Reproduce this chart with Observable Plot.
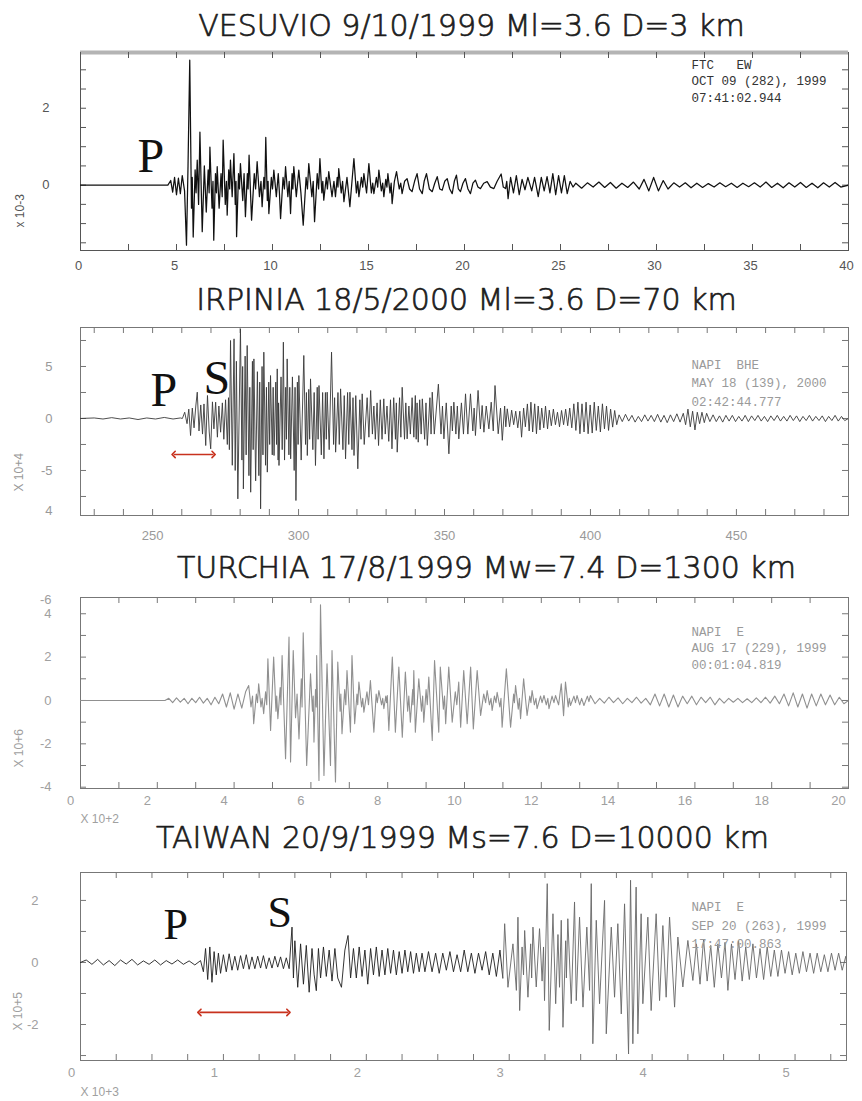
<!DOCTYPE html>
<html><head><meta charset="utf-8">
<script src="https://cdn.jsdelivr.net/npm/d3@7"></script>
<script src="https://cdn.jsdelivr.net/npm/@observablehq/plot@0.6"></script>
<style>
body{margin:0;background:#fff;}
#wrap{position:relative;width:862px;height:1101px;overflow:hidden;background:#fff;}
#wrap > svg{position:absolute;left:0;}
svg text, svg tspan{white-space:pre;}
</style></head><body><div id="wrap"></div>
<script>
// ---------- titles ----------
const titles = [
  "VESUVIO 9/10/1999 Ml=3.6 D=3 km",
  "IRPINIA 18/5/2000 Ml=3.6 D=70 km",
  "TURCHIA 17/8/1999 Mw=7.4 D=1300 km",
  "TAIWAN 20/9/1999 Ms=7.6 D=10000 km"
];
const stationNotes = [
  "FTC   EW\nOCT 09 (282), 1999\n07:41:02.944",
  "NAPI  BHE\nMAY 18 (139), 2000\n02:42:44.777",
  "NAPI  E\nAUG 17 (229), 1999\n00:01:04.819",
  "NAPI  E\nSEP 20 (263), 1999\n17:47:00.863"
];
const scaleNotes = ["x 10-3", "X 10+4", "X 10+6", "X 10+5"];
const timeNotes = ["", "", "X 10+2", "X 10+3"];

// ---------- axes ----------
const vesXTicks = [0,2.5,5,7.5,10,12.5,15,17.5,20,22.5,25,27.5,30,32.5,35,37.5,40];
const vesXLabels = [0,5,10,15,20,25,30,35,40];
const vesYTicks = [-1.5,-1,-0.5,0,0.5,1,1.5,2,2.5,3];
const vesYLabelVals = [2,0];
const vesYLabelText = ["2","0"];

const irpXTicks = [230,240,250,260,270,280,290,300,310,320,330,340,350,360,370,380,390,400,410,420,430,440,450,460,470,480];
const irpXLabels = [250,300,350,400,450];
const irpYTicks = [-7.5,-5,-2.5,0,2.5,5,7.5];
const irpYLabelVals = [5,0,-5,-8.9];
const irpYLabelText = ["5","0","-5","4"];

const turXTicks = [0,1,2,3,4,5,6,7,8,9,10,11,12,13,14,15,16,17,18,19,20];
const turXLabels = [0,2,4,6,8,10,12,14,16,18,20];
const turYTicks = [-4,-3,-2,-1,0,1,2,3,4];
const turYLabelVals = [4.62,4,2,0,-2,-4];
const turYLabelText = ["-6","4","2","0","-2","-4"];

const taiXTicks = [0,0.25,0.5,0.75,1,1.25,1.5,1.75,2,2.25,2.5,2.75,3,3.25,3.5,3.75,4,4.25,4.5,4.75,5,5.25];
const taiXLabels = [0,1,2,3,4,5];
const taiYTicks = [-3,-2,-1,0,1,2];
const taiYLabelVals = [2,0,-2];
const taiYLabelText = ["2","0","-2"];

// ---------- P / S arrival arrows (time span, amplitude level) ----------
const irpArrow = [{x1: 257.2, x2: 270.9, y: -3.46}];
const taiArrow = [{x1: 0.832, x2: 1.455, y: -1.61}];
// Taiwan: time where surface waves (grey part of trace) begin
const taiSurfaceStart = 2.955;

// ---------- traces [time, amplitude] ----------
const vesuvioTrace = [
[0,0],[4.55,0],[4.7,0.12],[4.8,-0.18],[4.9,0.2],[5.0,-0.25],[5.1,0.18],[5.2,-0.22],[5.3,0.25],[5.42,-0.15],
[5.52,-1.56],[5.6,0.5],[5.69,3.25],[5.78,-0.6],[5.82,0.2],[5.87,-1.35],[5.97,0.4],[6.02,-0.2],[6.08,0.65],[6.15,-0.5],
[6.22,1.38],[6.34,-1.21],[6.45,0.5],[6.55,-0.7],[6.65,0.4],[6.7,-0.2],[6.74,0.99],[6.85,-0.6],[6.9,0.1],[6.94,-1.43],
[7.03,0.3],[7.08,-0.2],[7.12,0.48],[7.22,-0.6],[7.32,0.3],[7.38,-0.3],[7.43,1.17],[7.54,-0.5],[7.6,0.1],[7.64,-0.78],
[7.72,0.4],[7.77,-0.1],[7.81,0.65],[7.9,-0.3],[7.99,0.82],[8.06,-0.5],[8.1,0.1],[8.13,-1.34],[8.23,0.3],[8.28,-0.1],
[8.33,0.56],[8.45,-0.4],[8.52,0.3],[8.59,-0.82],[8.69,0.3],[8.73,-0.1],[8.78,0.78],[8.91,-0.91],[9.05,0.3],[9.12,-0.1],
[9.2,0.61],[9.32,-0.3],[9.4,0.1],[9.46,-0.56],[9.55,0.2],[9.6,-0.1],[9.65,1.24],[9.73,-0.4],[9.77,0.1],[9.81,-0.74],
[9.94,0.2],[10.0,-0.1],[10.07,0.39],[10.2,-0.3],[10.3,0.3],[10.36,-0.2],[10.42,-0.87],[10.55,0.2],[10.62,-0.1],[10.68,0.48],
[10.8,-0.3],[10.87,0.1],[10.94,-0.74],[11.02,0.3],[11.06,-0.1],[11.11,0.48],[11.24,-0.3],[11.37,0.39],[11.48,-0.2],[11.6,-1.04],
[11.75,0.2],[11.82,-0.1],[11.89,0.56],[12.05,-0.3],[12.12,0.1],[12.19,-0.95],[12.33,0.3],[12.4,-0.1],[12.47,0.69],[12.57,-0.2],
[12.62,0.1],[12.67,-0.39],[12.8,0.2],[12.86,-0.1],[12.93,0.35],[13.1,-0.3],[13.2,0.1],[13.28,-0.3],[13.37,0.2],[13.41,-0.05],
[13.45,0.43],[13.58,-0.2],[13.65,0.1],[13.72,-0.43],[13.88,0.2],[14.03,-0.56],[14.14,0.1],[14.24,0.69],[14.37,-0.2],[14.44,0.1],
[14.5,-0.3],[14.63,0.2],[14.7,-0.05],[14.76,0.3],[14.9,-0.2],[15.02,0.56],[15.15,-0.2],[15.22,0.05],[15.28,-0.22],[15.41,0.2],
[15.48,-0.05],[15.54,0.39],[15.67,-0.15],[15.74,0.05],[15.8,-0.3],[15.9,0.15],[15.96,-0.05],[16.01,0.3],[16.12,-0.2],[16.18,0.05],
[16.23,-0.48],[16.35,0.1],[16.46,0.35],[16.6,-0.1],[16.68,0.05],[16.75,-0.22],[16.88,0.1],[17.01,0.17],[17.14,-0.1],[17.27,-0.17],
[17.4,0.1],[17.53,0.3],[17.66,-0.1],[17.8,-0.22],[17.9,0.1],[18.02,0.3],[18.17,-0.1],[18.32,-0.17],[18.45,0.05],[18.58,0.22],
[18.71,-0.1],[18.84,-0.13],[18.97,0.1],[19.1,0.17],[19.23,-0.1],[19.36,-0.22],[19.47,0.1],[19.58,0.26],[19.68,-0.1],[19.79,-0.17],
[19.92,0.05],[20.05,0.17],[20.18,-0.1],[20.31,-0.22],[20.44,0.05],[20.57,0.13],[20.7,-0.05],[20.83,-0.09],[21.0,0.05],[21.18,0.09],
[21.35,-0.05],[21.53,-0.09],[21.7,0.1],[21.91,0.29],[22.02,-0.05],[22.14,-0.09],[22.2,0.1],[22.27,-0.35],[22.4,0.2],[22.55,-0.2],
[22.7,0.25],[22.85,-0.25],[23.0,0.15],[23.15,-0.12],[23.3,0.2],[23.5,-0.15],[23.65,0.2],[23.84,-0.3],[24.0,0.2],[24.15,-0.15],
[24.3,0.22],[24.45,-0.2],[24.6,0.3],[24.75,-0.25],[24.9,0.25],[25.05,-0.2],[25.2,0.25],[25.35,-0.22],[25.5,0.1],[25.65,-0.05],
[25.8,0.05],[26.1,-0.08],[26.4,0.06],[26.7,-0.05],[27.0,0.08],[27.3,-0.06],[27.6,0.07],[27.9,-0.08],[28.2,0.05],[28.5,-0.06],
[28.8,0.08],[29.1,-0.1],[29.35,0.15],[29.6,-0.15],[29.85,0.2],[30.1,-0.15],[30.35,0.12],[30.6,-0.1],[30.9,0.06],[31.2,-0.05],
[31.5,0.06],[31.8,-0.07],[32.1,0.05],[32.4,-0.06],[32.7,0.04],[33.0,-0.05],[33.3,0.06],[33.6,-0.04],[33.9,0.05],[34.2,-0.06],
[34.5,0.05],[34.8,-0.04],[35.1,0.06],[35.4,-0.05],[35.7,0.08],[36.0,-0.06],[36.3,0.05],[36.6,-0.07],[36.9,0.06],[37.2,-0.05],
[37.5,0.07],[37.8,-0.06],[38.1,0.05],[38.4,-0.07],[38.7,0.06],[39.0,-0.05],[39.3,0.07],[39.6,-0.05],[40.0,0]
];

const irpiniaTrace = [
[225.3,0],[230,0.05],[233,-0.05],[236,0.08],[239,-0.05],[242,0.05],[245,-0.1],[248,0.05],[251,-0.05],[254,0.1],[257,-0.05],[259.5,0.05],
[260.2,0],[261,0.6],[261.8,-0.5],[262.4,0.9],[263.0,-1.64],[263.6,1.0],[264.2,-0.9],[264.8,1.2],[265.3,2.53],[265.9,-1.2],
[266.5,1.3],[267.1,-1.5],[267.6,1.4],[268.2,-2.6],[268.8,2.21],[269.4,-1.3],[269.9,-2.92],[270.5,1.6],[271.0,-1.0],[271.6,1.57],
[272.2,-1.8],[272.7,1.2],[273.3,-1.32],[273.9,1.5],[274.4,-2.0],[275.0,1.8],[275.6,-2.5],[276.0,2.0],[276.3,-3.0],[276.7,7.5],
[277.3,-4.5],[277.9,7.66],[278.3,-5.0],[278.7,5.5],[279.2,-7.73],[280.1,8.6],[280.6,-4.0],[280.85,5.0],[281.1,-6.77],[281.7,6.0],
[282.05,-3.5],[282.4,7.02],[283.0,-5.5],[283.3,3.0],[283.6,-7.09],[284.2,5.5],[284.45,-3.0],[284.7,5.73],[285.3,-6.0],[285.9,4.5],
[286.4,-5.5],[286.7,3.5],[287.0,-8.69],[287.5,5.0],[287.8,-3.5],[288.1,6.38],[288.7,-4.5],[289.0,3.0],[289.3,-5.16],[289.8,3.5],
[290.1,-2.5],[290.4,4.13],[291.0,-3.5],[291.3,3.0],[291.6,-3.56],[292.2,3.5],[292.45,-2.5],[292.7,4.77],[293.0,-4.0],[293.15,1.5],
[293.3,-4.52],[294.0,4.0],[294.4,-3.0],[294.8,7.34],[295.2,-4.0],[295.6,3.0],[295.85,-2.0],[296.1,5.73],[296.7,-3.5],[297.0,3.0],
[297.3,-3.88],[297.9,4.0],[298.5,-5.0],[298.8,3.0],[299.1,-7.89],[299.6,3.5],[299.85,-2.5],[300.1,4.13],[300.9,-4.0],[301.8,6.06],
[302.4,-2.5],[302.7,2.5],[303.0,-3.56],[303.5,2.8],[303.8,-2.0],[304.1,3.81],[304.9,-3.0],[305.35,2.5],[305.8,-4.52],[306.4,3.0],
[306.7,-2.0],[307.0,3.17],[307.8,-3.5],[308.25,2.5],[308.7,-3.88],[309.2,2.5],[309.5,-2.0],[309.8,2.53],[310.5,-3.0],[311.3,6.38],
[312.0,-2.5],[312.35,2.0],[312.7,-3.24],[313.5,2.5],[313.95,-2.5],[314.4,2.85],[315.2,-3.0],[315.65,2.2],[316.1,-3.88],[316.8,2.5],
[317.2,-2.5],[317.6,2.53],[318.3,-3.0],[318.65,2.0],[319.0,-3.56],[319.6,2.2],[320.3,-4.84],[321.0,1.8],[321.4,-2.0],[321.8,2.37],
[322.5,-2.5],[323.5,2.0],[324.1,-1.8],[324.7,2.69],[325.3,-1.5],[325.8,1.2],[326.3,-2.0],[326.9,1.5],[327.4,-2.6],[328.0,1.8],
[328.6,-2.0],[329.2,1.89],[329.7,-1.5],[330.3,1.2],[330.9,-2.2],[331.5,1.8],[332.0,-2.92],[332.6,2.0],[333.2,-2.0],[333.5,1.5],
[333.8,-3.24],[334.6,2.0],[335.05,-1.8],[335.5,3.0],[336.3,-2.0],[336.75,1.5],[337.2,-1.96],[337.8,1.2],[338.3,-1.5],[338.9,2.0],
[339.5,-1.8],[340.0,2.21],[340.3,-2.0],[340.6,1.5],[341.0,-2.28],[341.5,1.8],[342.0,-1.5],[342.4,1.89],[343.2,-2.0],[343.65,1.5],
[344.1,-2.6],[345.0,2.0],[345.4,-1.5],[345.8,2.53],[346.5,-1.5],[347.9,3.3],[348.8,-1.5],[349.3,1.2],[349.8,-1.96],[350.6,1.5],
[351.5,-3.4],[352.3,1.2],[352.7,-1.2],[353.2,1.57],[353.9,-1.5],[354.4,1.2],[354.9,-1.96],[355.8,1.5],[356.5,-1.5],[357.2,2.37],
[358.0,-1.5],[358.9,2.37],[359.7,-1.2],[360.15,1.0],[360.6,-1.64],[361.5,2.7],[362.3,-1.0],[362.9,1.25],[363.5,-1.32],[364.3,1.2],
[365.2,-1.0],[366.0,1.57],[366.7,-1.2],[367.3,3.17],[368.4,-1.47],[369.2,1.0],[369.8,-2.1],[370.6,1.2],[371.0,-0.8],[371.5,0.93],
[372.3,-0.8],[373.0,0.8],[373.7,-0.6],[374.4,0.7],[375.1,-0.9],[375.8,0.7],[376.4,-1.8],[377.1,1.0],[377.7,-0.8],[378.4,1.4],
[379.0,-1.2],[379.6,1.57],[380.2,-1.3],[380.9,1.41],[381.5,-1.47],[382.1,1.2],[382.7,-1.1],[383.3,1.0],[384.0,-0.9],[384.6,1.2],
[385.3,-1.0],[385.9,0.8],[386.6,-0.7],[387.3,0.9],[388.0,-0.6],[388.7,0.6],[389.4,-0.8],[390.1,0.77],[390.8,-0.6],[391.5,0.9],
[392.2,-0.7],[392.9,1.0],[393.6,-0.9],[394.3,1.41],[395.0,-1.15],[395.7,1.57],[396.4,-1.47],[397.1,1.41],[397.8,-1.3],[398.5,1.57],
[399.2,-1.47],[399.9,1.3],[400.6,-1.4],[401.3,1.57],[402.0,-1.15],[402.7,1.2],[403.4,-1.3],[404.1,1.41],[404.8,-1.0],[405.5,1.2],
[406.2,-1.15],[406.9,0.9],[407.6,-0.83],[408.3,0.77],[409.0,-0.6],[409.8,0.35],[410.9,-0.3],[412.0,0.4],[413.1,-0.25],[414.2,0.3],
[415.3,-0.35],[416.4,0.2],[417.5,-0.3],[418.6,0.35],[419.7,-0.25],[420.8,0.3],[421.9,-0.3],[423.0,0.4],[424.1,-0.35],[425.2,0.3],
[426.3,-0.4],[427.4,0.35],[428.5,-0.3],[429.6,0.45],[430.7,-0.35],[431.8,0.5],[432.6,-0.6],[433.4,0.9],[434.2,-0.8],[435.0,0.7],
[435.8,-1.1],[436.6,0.6],[437.4,-0.5],[438.2,0.6],[439.0,-0.4],[439.8,0.5],[440.9,-0.3],[442.0,0.35],[443.1,-0.3],[444.2,0.25],
[445.3,-0.35],[446.4,0.3],[447.5,-0.25],[448.6,0.3],[449.7,-0.3],[450.8,0.2],[451.9,-0.25],[453.0,0.3],[454.1,-0.3],[455.2,0.25],
[456.3,-0.2],[457.4,0.3],[458.5,-0.25],[459.6,0.2],[460.7,-0.3],[461.8,0.25],[462.9,-0.2],[464.0,0.3],[465.1,-0.25],[466.2,0.2],
[467.3,-0.25],[468.4,0.3],[469.5,-0.2],[470.6,0.25],[471.7,-0.3],[472.8,0.2],[473.9,-0.2],[475.0,0.3],[476.1,-0.25],[477.2,0.2],
[478.3,-0.2],[479.4,0.25],[480.5,-0.3],[481.6,0.2],[482.7,-0.2],[483.8,0.3],[484.9,-0.25],[486.0,0.2],[487.1,-0.2],[488.4,0]
];

const turchiaTrace = [
[0,0],[2.2,0],[2.3,0.1],[2.4,-0.1],[2.5,0.12],[2.6,-0.08],[2.7,0.1],[2.8,-0.15],[2.9,0.1],[3.0,-0.1],[3.1,0.15],[3.2,-0.12],
[3.3,0.1],[3.4,-0.2],[3.5,0.15],[3.6,-0.15],[3.7,0.3],[3.8,-0.3],[3.9,0.35],[4.0,-0.4],[4.1,0.3],[4.2,-0.35],[4.3,0.4],
[4.38,0.69],[4.44,-0.3],[4.48,0.2],[4.51,-1.07],[4.58,0.3],[4.61,-0.1],[4.64,0.77],[4.7,-0.3],[4.73,0.1],[4.77,-0.61],[4.82,0.4],
[4.85,-0.2],[4.88,1.92],[4.95,-1.38],[5.03,2.0],[5.09,-0.5],[5.11,0.2],[5.14,-0.84],[5.2,0.6],[5.22,-0.2],[5.25,2.07],[5.34,-2.69],
[5.43,2.92],[5.47,-2.84],[5.54,2.3],[5.6,-0.8],[5.64,0.3],[5.69,-1.77],[5.75,1.0],[5.77,-0.3],[5.80,3.12],[5.89,-3.0],[5.99,1.23],
[6.04,-0.5],[6.06,0.2],[6.08,-1.92],[6.12,0.5],[6.14,-0.3],[6.15,2.07],[6.21,-3.69],[6.25,4.41],[6.34,-3.46],[6.42,1.69],[6.51,-3.0],
[6.55,2.3],[6.64,-3.76],[6.70,1.77],[6.76,-0.5],[6.78,0.3],[6.81,-1.53],[6.88,0.5],[6.91,-0.2],[6.94,1.38],[7.03,-1.46],[7.07,2.07],
[7.14,-1.07],[7.2,0.3],[7.22,-0.2],[7.25,0.85],[7.32,-0.3],[7.35,0.1],[7.38,-0.54],[7.46,0.4],[7.5,-0.2],[7.55,0.92],[7.64,-1.46],
[7.7,0.3],[7.73,-0.1],[7.77,0.46],[7.84,-0.2],[7.87,0.1],[7.90,-0.38],[7.95,0.2],[7.97,-0.1],[7.99,0.23],[8.03,-1.38],[8.12,2.0],
[8.20,-1.46],[8.29,1.54],[8.38,-1.69],[8.46,1.31],[8.52,-0.5],[8.55,0.2],[8.59,-1.0],[8.65,0.5],[8.66,-0.2],[8.68,1.38],[8.72,-1.46],
[8.81,1.0],[8.88,-0.5],[8.91,0.2],[8.94,-1.0],[9.0,0.5],[9.03,-0.2],[9.07,1.08],[9.16,-1.84],[9.22,1.84],[9.33,-1.46],[9.37,1.54],
[9.45,-0.4],[9.48,0.2],[9.51,-1.07],[9.59,1.54],[9.68,-1.0],[9.76,0.4],[9.8,-0.2],[9.85,0.85],[9.90,-1.23],[9.98,1.38],[10.07,-1.07],
[10.16,1.54],[10.23,-1.31],[10.33,1.38],[10.42,-0.69],[10.5,0.3],[10.55,-0.1],[10.59,0.46],[10.65,-0.2],[10.69,0.1],[10.72,-0.46],
[10.78,0.2],[10.82,-0.1],[10.85,0.38],[10.92,-0.3],[10.95,0.1],[10.98,-1.23],[11.09,1.46],[11.20,-1.23],[11.28,0.3],[11.3,-0.1],
[11.33,0.69],[11.40,-0.4],[11.43,0.1],[11.46,-0.84],[11.54,1.0],[11.63,-0.69],[11.7,0.2],[11.73,-0.1],[11.76,0.46],[11.82,-0.2],
[11.86,0.1],[11.89,-0.38],[11.98,0.2],[12.02,-0.1],[12.07,0.23],[12.13,-0.2],[12.17,0.1],[12.20,-0.38],[12.28,0.2],[12.33,-0.1],
[12.37,0.23],[12.45,-0.2],[12.52,0.77],[12.58,-0.7],[12.63,0.85],[12.7,-0.3],[12.73,0.1],[12.76,-0.23],[12.85,0.2],[12.89,-0.1],
[12.93,0.23],[13.0,-0.2],[13.05,0.1],[13.11,-0.23],[13.2,0.2],[13.24,-0.05],[13.28,0.23],[13.4,-0.15],[13.52,0.1],[13.64,-0.12],
[13.76,0.15],[13.88,-0.1],[14.0,0.12],[14.12,-0.15],[14.24,0.1],[14.36,-0.1],[14.48,0.15],[14.6,-0.12],[14.72,0.1],[14.84,-0.2],
[14.96,0.3],[15.08,-0.25],[15.2,0.3],[15.32,-0.3],[15.44,0.25],[15.56,-0.3],[15.68,0.2],[15.8,-0.15],[15.92,0.2],[16.04,-0.2],
[16.16,0.15],[16.28,-0.1],[16.4,0.15],[16.52,-0.2],[16.64,0.1],[16.76,-0.12],[16.88,0.1],[17.0,-0.08],[17.12,0.1],[17.24,-0.1],
[17.36,0.08],[17.48,-0.1],[17.6,0.12],[17.72,-0.1],[17.84,0.15],[17.96,-0.12],[18.08,0.2],[18.2,-0.15],[18.32,0.3],[18.44,-0.25],
[18.56,0.35],[18.68,-0.3],[18.8,0.3],[18.92,-0.35],[19.04,0.3],[19.16,-0.25],[19.28,0.3],[19.4,-0.2],[19.52,0.25],[19.64,-0.2],
[19.76,0.15],[19.88,-0.15],[20.0,0]
];

const taiwanTrace = [
[0,0],[0.04,0.08],[0.08,-0.06],[0.12,0.1],[0.16,-0.08],[0.2,0.06],[0.24,-0.1],[0.28,0.08],[0.32,-0.05],[0.36,0.1],[0.4,-0.08],
[0.44,0.05],[0.48,-0.06],[0.52,0.08],[0.56,-0.08],[0.6,0.06],[0.64,-0.05],[0.68,0.08],[0.72,-0.06],[0.76,0.05],[0.8,-0.08],[0.84,0.06],
[0.86,-0.3],[0.875,0.45],[0.89,-0.55],[0.905,0.5],[0.92,-0.64],[0.935,0.35],[0.95,-0.4],[0.965,0.3],[0.98,-0.35],[1.0,0.25],
[1.02,-0.3],[1.04,0.28],[1.06,-0.25],[1.08,0.2],[1.1,-0.25],[1.12,0.22],[1.14,-0.2],[1.16,0.25],[1.18,-0.22],[1.2,0.18],
[1.22,-0.2],[1.24,0.2],[1.26,-0.18],[1.28,0.22],[1.3,-0.2],[1.32,0.15],[1.34,-0.18],[1.36,0.2],[1.38,-0.15],[1.4,0.18],
[1.42,-0.2],[1.44,0.15],[1.46,-0.2],[1.48,1.14],[1.49,-0.5],[1.5,0.7],[1.52,-0.8],[1.54,0.6],[1.56,-0.7],[1.58,0.55],
[1.6,-0.96],[1.62,0.45],[1.635,-0.4],[1.65,-0.91],[1.665,0.45],[1.68,-0.5],[1.7,0.5],[1.72,-0.45],[1.74,0.4],[1.76,-0.6],
[1.78,0.45],[1.8,-0.5],[1.826,-0.8],[1.85,0.4],[1.872,0.87],[1.89,-0.5],[1.91,0.45],[1.93,-0.5],[1.95,0.5],[1.97,-0.45],
[1.99,0.4],[2.01,-0.7],[2.03,0.45],[2.05,-0.4],[2.07,0.5],[2.09,-0.45],[2.11,0.4],[2.13,-0.4],[2.15,0.45],[2.17,-0.35],
[2.19,0.4],[2.21,-0.4],[2.23,0.35],[2.25,-0.35],[2.27,0.4],[2.29,-0.3],[2.31,0.35],[2.33,-0.35],[2.35,0.3],[2.37,-0.3],
[2.39,0.3],[2.41,-0.3],[2.435,0.35],[2.46,-0.3],[2.485,0.3],[2.51,-0.35],[2.535,0.3],[2.56,-0.25],[2.585,0.35],[2.61,-0.3],
[2.635,0.25],[2.66,-0.3],[2.685,0.4],[2.71,-0.3],[2.735,0.3],[2.76,-0.35],[2.785,0.3],[2.81,-0.25],[2.835,0.35],[2.86,-0.4],
[2.885,0.3],[2.91,-0.45],[2.935,0.4],[2.955,-0.5],[2.968,1.25],[2.991,-0.8],[3.026,0.6],[3.05,-0.9],[3.061,1.46],[3.073,-1.55],
[3.09,0.5],[3.1,-0.4],[3.108,1.03],[3.131,-1.12],[3.15,0.6],[3.157,-0.5],[3.166,1.14],[3.189,-0.79],[3.212,1.09],[3.23,-0.6],
[3.24,0.5],[3.247,-1.23],[3.266,2.54],[3.28,-2.19],[3.306,1.57],[3.325,-1.33],[3.341,0.9],[3.352,-0.8],[3.364,1.36],[3.376,-2.09],
[3.395,0.7],[3.4,-0.5],[3.41,1.41],[3.434,-1.33],[3.457,1.95],[3.469,-1.23],[3.492,1.46],[3.516,-1.44],[3.543,1.14],[3.562,-0.9],
[3.574,2.54],[3.585,-2.62],[3.609,1.36],[3.632,-1.33],[3.667,2.0],[3.679,-2.3],[3.714,1.14],[3.737,-1.12],[3.76,1.25],[3.784,-1.66],
[3.807,1.89],[3.835,-2.95],[3.849,2.65],[3.865,-2.62],[3.888,2.43],[3.9,-2.3],[3.923,1.57],[3.935,-1.33],[3.97,1.46],[3.993,-1.55],
[4.028,1.57],[4.052,-1.23],[4.075,1.19],[4.098,-1.12],[4.122,1.46],[4.157,-1.44],[4.18,0.82],[4.215,-0.79],[4.25,0.71],[4.285,-0.58],
[4.31,0.6],[4.335,-0.7],[4.36,0.75],[4.385,-0.6],[4.41,0.55],[4.435,-0.8],[4.46,0.6],[4.485,-0.5],[4.51,0.65],[4.53,-0.9],
[4.555,0.6],[4.58,-0.55],[4.605,0.7],[4.63,-0.6],[4.655,0.5],[4.68,-0.55],[4.705,0.6],[4.73,-0.5],[4.755,0.45],[4.78,-0.55],
[4.805,0.5],[4.83,-0.45],[4.855,0.4],[4.88,-0.45],[4.905,0.4],[4.93,-0.35],[4.955,0.35],[4.98,-0.4],[5.005,0.3],[5.03,-0.35],
[5.055,0.35],[5.08,-0.3],[5.105,0.3],[5.13,-0.35],[5.155,0.3],[5.18,-0.3],[5.205,0.25],[5.23,-0.3],[5.255,0.3],[5.28,-0.25],
[5.305,0.3],[5.33,-0.25],[5.355,0.2],[5.36,0]
];

// ---------- panel builder ----------
function panel(o) {
  const fmt = (vals, texts) => d => texts[vals.indexOf(d)];
  const fh = o.height - o.marginTop - o.marginBottom;
  const fw = 862 - 80 - o.marginRight;
  const tl = 6;
  const marks = [];
  marks.push(Plot.frame({stroke: o.frameColor, strokeWidth: 1}));
  if (o.topRule) marks.push(Plot.ruleY([o.yDomain[1]], {stroke: o.topRule, strokeWidth: 4}));
  // inward ticks on all four sides
  marks.push(Plot.tickX(o.xTicks, {x: d => d, insetBottom: fh - tl, stroke: o.frameColor}));
  marks.push(Plot.tickX(o.xTicks, {x: d => d, insetTop: fh - tl, stroke: o.frameColor}));
  marks.push(Plot.tickY(o.yTicks, {y: d => d, insetRight: fw - tl, stroke: o.frameColor}));
  marks.push(Plot.tickY(o.yTicks, {y: d => d, insetLeft: fw - tl, stroke: o.frameColor}));
  // tick labels
  marks.push(Plot.axisX({anchor: "bottom", ticks: o.xLabels, tickSize: 0, tickPadding: o.xPad, dx: o.xLabelDx,
    tickFormat: d => String(d), fill: o.labelColor, fontSize: 13, fontFamily: "Liberation Sans", label: null}));
  marks.push(Plot.axisY({anchor: "left", ticks: o.yLabelVals, tickSize: 0, tickPadding: o.yPad,
    tickFormat: fmt(o.yLabelVals, o.yLabelText), fill: o.labelColor, fontSize: 13, fontFamily: "Liberation Sans", label: null}));
  // trace(s)
  for (const seg of o.segments)
    marks.push(Plot.line(o.trace.filter(d => d[0] >= seg.from && d[0] <= seg.to),
      {x: d => d[0], y: d => d[1], stroke: seg.color, strokeWidth: o.traceWidth, clip: true}));
  // title
  marks.push(Plot.text([o.title], {text: d => d, frameAnchor: "top", dx: o.titleDx, dy: o.titleDy, lineAnchor: "middle",
    fontSize: 30, fontFamily: "DejaVu Sans", fontWeight: 300, fill: "#1c1c1c", stroke: "#1c1c1c", strokeWidth: 0.7}));
  // station note
  marks.push(Plot.text([o.note], {text: d => d, frameAnchor: "top-left", dx: o.noteDx, dy: o.noteDy, textAnchor: "start",
    lineAnchor: "top", lineHeight: o.noteLH, fontSize: 12.5, fontFamily: "Liberation Mono", fill: o.noteColor}));
  // amplitude multiplier (rotated)
  marks.push(Plot.text([o.scaleNote], {text: d => d, frameAnchor: "bottom-left", dx: o.scaleDx, dy: o.scaleDy, rotate: -90,
    fontSize: 12, fontFamily: "Liberation Sans", fill: o.labelColor}));
  if (o.timeNote) marks.push(Plot.text([o.timeNote], {text: d => d, frameAnchor: "bottom-left", dx: 0, dy: o.timeDy,
    textAnchor: "start", fontSize: 12, fontFamily: "Liberation Sans", fill: o.labelColor}));
  for (const ph of (o.phases || []))
    marks.push(Plot.text([ph.t], {text: d => d, frameAnchor: "top-left", dx: ph.dx, dy: ph.dy, textAnchor: "start",
      lineAnchor: "middle", fontSize: ph.size, fontFamily: "Liberation Serif", fill: "#111"}));
  if (o.arrow) marks.push(Plot.link(o.arrow, {x1: "x1", x2: "x2", y1: "y", y2: "y", stroke: "#c8321e", strokeWidth: 1.6,
    markerStart: "arrow-reverse", markerEnd: "arrow"}));
  const svg = Plot.plot({
    width: 862, height: o.height,
    marginLeft: 80, marginRight: o.marginRight, marginTop: o.marginTop, marginBottom: o.marginBottom,
    x: {domain: o.xDomain}, y: {domain: o.yDomain},
    style: {background: "transparent", overflow: "visible", fontFamily: "Liberation Sans"},
    marks
  });
  svg.style.position = "absolute";
  svg.style.top = o.top + "px";
  document.getElementById("wrap").appendChild(svg);
}

panel({
  top: 0, height: 285, marginTop: 52, marginBottom: 35, marginRight: 14,
  xDomain: [0, 40], yDomain: [-1.7, 3.45],
  xTicks: vesXTicks, xLabels: vesXLabels, yTicks: vesYTicks, yLabelVals: vesYLabelVals, yLabelText: vesYLabelText,
  xPad: 10, xLabelDx: -2, yPad: 31, labelColor: "#555", frameColor: "#555", topRule: "#b4b4b4",
  trace: vesuvioTrace, traceWidth: 1.25, segments: [{from: 0, to: 40, color: "#111"}],
  title: titles[0], titleDx: 7, titleDy: -26,
  note: stationNotes[0], noteDx: 611, noteDy: 5, noteLH: 1.3, noteColor: "#333",
  scaleNote: scaleNotes[0], scaleDx: -57, scaleDy: -23,
  phases: [{t: "P", dx: 57, dy: 104, size: 48}]
});
panel({
  top: 285, height: 270, marginTop: 42, marginBottom: 40, marginRight: 14,
  xDomain: [225.3, 488.4], yDomain: [-9.33, 8.75],
  xTicks: irpXTicks, xLabels: irpXLabels, yTicks: irpYTicks, yLabelVals: irpYLabelVals, yLabelText: irpYLabelText,
  xPad: 15, xLabelDx: 0, yPad: 28, labelColor: "#999", frameColor: "#777",
  trace: irpiniaTrace, traceWidth: 0.9, segments: [{from: 0, to: 500, color: "#3a3a3a"}],
  title: titles[1], titleDx: 2, titleDy: -27,
  note: stationNotes[1], noteDx: 611, noteDy: 28, noteLH: 1.48, noteColor: "#9a9a9a",
  scaleNote: scaleNotes[1], scaleDx: -58, scaleDy: -24,
  phases: [{t: "P", dx: 70, dy: 63, size: 48}, {t: "S", dx: 123, dy: 51, size: 48}],
  arrow: irpArrow
});
panel({
  top: 555, height: 268, marginTop: 42, marginBottom: 35, marginRight: 14,
  xDomain: [0, 20], yDomain: [-4.06, 4.75],
  xTicks: turXTicks, xLabels: turXLabels, yTicks: turYTicks, yLabelVals: turYLabelVals, yLabelText: turYLabelText,
  xPad: 7, xLabelDx: -10, yPad: 29, labelColor: "#a0a0a0", frameColor: "#777",
  trace: turchiaTrace, traceWidth: 1.1, segments: [{from: 0, to: 20, color: "#909090"}],
  title: titles[2], titleDx: 22, titleDy: -29,
  note: stationNotes[2], noteDx: 611, noteDy: 27, noteLH: 1.3, noteColor: "#9a9a9a",
  scaleNote: scaleNotes[2], scaleDx: -58, scaleDy: -21,
  timeNote: timeNotes[2], timeDy: 34
});
panel({
  top: 823, height: 278, marginTop: 49, marginBottom: 41, marginRight: 16,
  xDomain: [0, 5.36], yDomain: [-3.16, 2.9],
  xTicks: taiXTicks, xLabels: taiXLabels, yTicks: taiYTicks, yLabelVals: taiYLabelVals, yLabelText: taiYLabelText,
  xPad: 7, xLabelDx: -9, yPad: 42, labelColor: "#a0a0a0", frameColor: "#777",
  trace: taiwanTrace, traceWidth: 0.9,
  segments: [{from: 0, to: taiSurfaceStart, color: "#1e1e1e"}, {from: taiSurfaceStart, to: 6, color: "#666"}],
  title: titles[3], titleDx: -1, titleDy: -34,
  note: stationNotes[3], noteDx: 611, noteDy: 25, noteLH: 1.5, noteColor: "#9a9a9a",
  scaleNote: scaleNotes[3], scaleDx: -59, scaleDy: -30,
  timeNote: timeNotes[3], timeDy: 35,
  phases: [{t: "P", dx: 83, dy: 52, size: 44}, {t: "S", dx: 187, dy: 40, size: 44}],
  arrow: taiArrow
});
</script></body></html>
